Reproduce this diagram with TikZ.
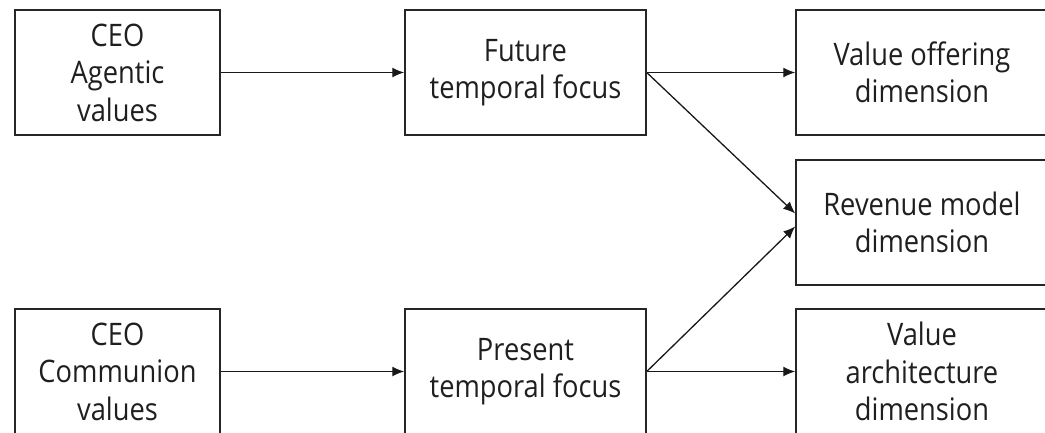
\documentclass[tikz,border=0pt]{standalone}
\usepackage{fontspec}
\setmainfont{Open Sans}[FakeStretch=0.88]
\usetikzlibrary{arrows.meta,calc}
\tikzset{
  box/.style={draw=black!85, line width=1.5pt, align=center, inner sep=0pt,
    font=\fontsize{31}{37.5}\selectfont, text=black!88},
  conn/.style={line width=1.3pt, draw=black!90, -{Latex[length=12pt,width=10pt]}}
}
\begin{document}
\begin{tikzpicture}[x=1pt,y=-1pt]
\useasboundingbox (0,0) rectangle (1045,432);
\node[box, minimum width=205pt, minimum height=125pt] (ag) at (117.5,72.5) {CEO\\Agentic\\values};
\node[box, minimum width=205pt, minimum height=125pt] (co) at (117.5,371.5) {CEO\\Communion\\values};
\node[box, minimum width=241pt, minimum height=125pt] (fu) at (525.5,72.5) {Future\\temporal focus};
\node[box, minimum width=241pt, minimum height=125pt] (pr) at (525.5,371.5) {Present\\temporal focus};
\node[box, minimum width=252pt, minimum height=125pt] (vo) at (922,72.5) {Value offering\\dimension};
\node[box, minimum width=252pt, minimum height=125pt] (rm) at (922,222.5) {Revenue model\\dimension};
\node[box, minimum width=252pt, minimum height=125pt] (va) at (922,371.5) {Value\\architecture\\dimension};
\coordinate (rmup) at ($(rm.west)+(0,-9)$);
\coordinate (rmdn) at ($(rm.west)+(0,4)$);
\draw[conn] (ag.east) -- (fu.west);
\draw[conn] (co.east) -- (pr.west);
\draw[conn] (fu.east) -- (vo.west);
\draw[conn] (pr.east) -- (va.west);
\draw[conn] (fu.east) -- (rmup);
\draw[conn] (pr.east) -- (rmdn);
\end{tikzpicture}
\end{document}
